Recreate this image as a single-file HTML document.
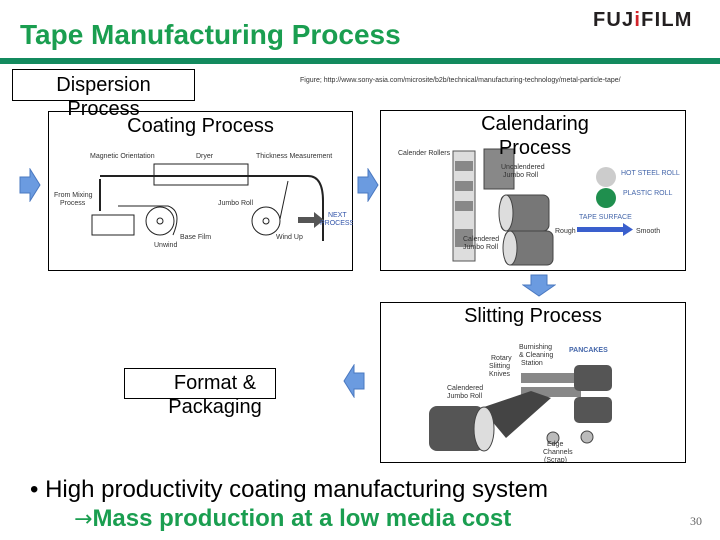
<!DOCTYPE html>
<html><head><style>
body{margin:0;width:720px;height:540px;position:relative;background:#fff;font-family:"Liberation Sans",sans-serif;overflow:hidden}
.a{position:absolute}
.box{position:absolute;border:1px solid #000;box-sizing:border-box;background:#fff}
.lbl{position:absolute;font-size:20px;color:#000;text-align:center;line-height:24px}
.s{font-size:7px;fill:#333;font-family:"Liberation Sans",sans-serif}
</style></head><body>
<div class="a" style="left:20px;top:19px;font-size:28px;font-weight:bold;color:#1a9e50;letter-spacing:0px">Tape Manufacturing Process</div>
<div class="a" style="left:593px;top:9px;font-size:20px;font-weight:bold;color:#231f20;letter-spacing:1.2px">FUJ<span style="color:#d2232a">i</span>FILM</div>
<div class="a" style="left:0;top:58px;width:720px;height:6px;background:#138a5e"></div>
<div class="a" style="left:300px;top:77px;font-size:7px;color:#333;white-space:nowrap">Figure; http://www.sony-asia.com/microsite/b2b/technical/manufacturing-technology/metal-particle-tape/</div>

<!-- Coating -->
<div class="box" style="left:48px;top:111px;width:305px;height:160px"></div>
<svg class="a" style="left:48px;top:111px" width="305" height="160">
<text class="s" x="42" y="47">Magnetic Orientation</text><text class="s" x="148" y="47">Dryer</text><text class="s" x="208" y="47">Thickness Measurement</text>
<rect x="106" y="53" width="94" height="21" fill="#fff" stroke="#222"/>
<path d="M52 68 L52 100 M52 65 L260 65 Q275 65 275 90 L275 130" fill="none" stroke="#222" stroke-width="2"/>
<rect x="44" y="104" width="42" height="20" fill="#fff" stroke="#222"/>
<circle cx="112" cy="110" r="14" fill="#fff" stroke="#222"/><circle cx="112" cy="110" r="3" fill="none" stroke="#222"/>
<circle cx="218" cy="110" r="14" fill="#fff" stroke="#222"/><circle cx="218" cy="110" r="3" fill="none" stroke="#222"/>
<path d="M70 95 L120 95 Q135 100 125 124 M232 108 L240 70" fill="none" stroke="#222"/>
<text class="s" x="6" y="86">From Mixing</text><text class="s" x="12" y="94">Process</text>
<text class="s" x="170" y="94">Jumbo Roll</text><text class="s" x="132" y="128">Base Film</text><text class="s" x="106" y="136">Unwind</text><text class="s" x="228" y="128">Wind Up</text>
<path d="M250 106 h16 v-5 l10 8 -10 8 v-5 h-16z" fill="#555"/>
<text class="s" x="280" y="106" style="fill:#3355aa">NEXT</text><text class="s" x="272" y="114" style="fill:#3355aa">PROCESS</text>
</svg>
<div class="lbl" style="left:48px;top:114px;width:305px">Coating Process</div>

<div class="box" style="left:12px;top:69px;width:183px;height:32px"></div>
<div class="lbl" style="left:12px;top:73px;width:183px">Dispersion<br>Process</div>

<!-- Calendaring -->
<div class="box" style="left:380px;top:110px;width:306px;height:161px"></div>
<svg class="a" style="left:381px;top:111px" width="304" height="159">
<text class="s" x="17" y="44">Calender Rollers</text>
<rect x="72" y="40" width="22" height="110" fill="#ddd" stroke="#555"/>
<g fill="#888"><rect x="74" y="50" width="18" height="10"/><rect x="74" y="70" width="18" height="10"/><rect x="74" y="90" width="18" height="10"/><rect x="74" y="118" width="18" height="18"/></g>
<rect x="103" y="38" width="30" height="40" fill="#888" stroke="#444"/>
<rect x="120" y="84" width="48" height="36" rx="6" fill="#777" stroke="#444"/><ellipse cx="125" cy="102" rx="7" ry="18" fill="#ddd" stroke="#444"/>
<rect x="124" y="120" width="48" height="34" rx="6" fill="#777" stroke="#444"/><ellipse cx="129" cy="137" rx="7" ry="17" fill="#ddd" stroke="#444"/>
<text class="s" x="120" y="58">Uncalendered</text><text class="s" x="122" y="66">Jumbo Roll</text>
<text class="s" x="82" y="130">Calendered</text><text class="s" x="82" y="138">Jumbo Roll</text>
<circle cx="225" cy="66" r="10" fill="#ccc"/><circle cx="225" cy="87" r="10" fill="#1f8f4e"/>
<text class="s" x="240" y="64" style="fill:#4466aa">HOT STEEL ROLL</text><text class="s" x="242" y="84" style="fill:#4466aa">PLASTIC ROLL</text>
<text class="s" x="198" y="108" style="fill:#4466aa">TAPE SURFACE</text>
<text class="s" x="174" y="122">Rough</text><rect x="196" y="116" width="48" height="5" fill="#3a5fcd"/><path d="M242 112 l10 6.5 -10 6.5z" fill="#3a5fcd"/><text class="s" x="255" y="122">Smooth</text>
</svg>
<div class="lbl" style="left:440px;top:112px;width:190px">Calendaring<br>Process</div>

<!-- Slitting -->
<div class="box" style="left:380px;top:302px;width:306px;height:161px"></div>
<svg class="a" style="left:381px;top:303px" width="304" height="159">
<text class="s" x="138" y="46">Burnishing</text><text class="s" x="138" y="54">&amp; Cleaning</text><text class="s" x="140" y="62">Station</text>
<text class="s" x="188" y="49" style="fill:#4466aa;font-weight:bold">PANCAKES</text>
<text class="s" x="110" y="57">Rotary</text>
<text class="s" x="108" y="65">Slitting</text><text class="s" x="108" y="73">Knives</text>
<text class="s" x="66" y="87">Calendered</text><text class="s" x="66" y="95">Jumbo Roll</text>
<rect x="140" y="70" width="60" height="10" fill="#888"/><rect x="140" y="84" width="60" height="10" fill="#888"/>
<rect x="193" y="62" width="38" height="26" rx="5" fill="#555"/><rect x="193" y="94" width="38" height="26" rx="5" fill="#555"/>
<path d="M100 105 L150 88 L170 95 L125 135z" fill="#444"/>
<rect x="48" y="103" width="55" height="45" rx="8" fill="#555"/><ellipse cx="103" cy="126" rx="10" ry="22" fill="#ddd" stroke="#444"/>
<circle cx="172" cy="135" r="6" fill="#bbb" stroke="#444"/><circle cx="206" cy="134" r="6" fill="#bbb" stroke="#444"/>
<text class="s" x="166" y="143">Edge</text><text class="s" x="162" y="151">Channels</text><text class="s" x="163" y="159">(Scrap)</text>
</svg>
<div class="lbl" style="left:380px;top:304px;width:306px">Slitting Process</div>

<div class="box" style="left:124px;top:368px;width:152px;height:31px"></div>
<div class="lbl" style="left:124px;top:371px;width:182px">Format &amp;<br>Packaging</div>

<!-- arrows -->
<svg class="a" style="left:18px;top:168px" width="24" height="34"><path d="M2 9 h10 v-8 l10 16 -10 16 v-8 h-10z" fill="#6b9be0" stroke="#4a78c0"/></svg>
<svg class="a" style="left:356px;top:168px" width="24" height="34"><path d="M2 9 h10 v-8 l10 16 -10 16 v-8 h-10z" fill="#6b9be0" stroke="#4a78c0"/></svg>
<svg class="a" style="left:522px;top:274px" width="34" height="24"><path d="M9 1 v10 h-8 l16 11 16 -11 h-8 v-10z" fill="#6b9be0" stroke="#4a78c0"/></svg>
<svg class="a" style="left:342px;top:364px" width="24" height="34"><path d="M22 9 h-10 v-8 l-10 16 10 16 v-8 h10z" fill="#6b9be0" stroke="#4a78c0"/></svg>

<div class="a" style="left:30px;top:476px;font-size:24px;color:#000;white-space:nowrap">• High productivity coating manufacturing system</div>
<div class="a" style="left:74px;top:505px;font-size:24px;font-weight:bold;color:#1a9e50;white-space:nowrap"><span style="font-family:'DejaVu Sans',sans-serif;font-weight:normal;font-size:22px">→</span>Mass production at a low media cost</div>
<div class="a" style="left:690px;top:514px;font-size:12px;color:#666;font-family:'Liberation Serif',serif">30</div>
</body></html>
